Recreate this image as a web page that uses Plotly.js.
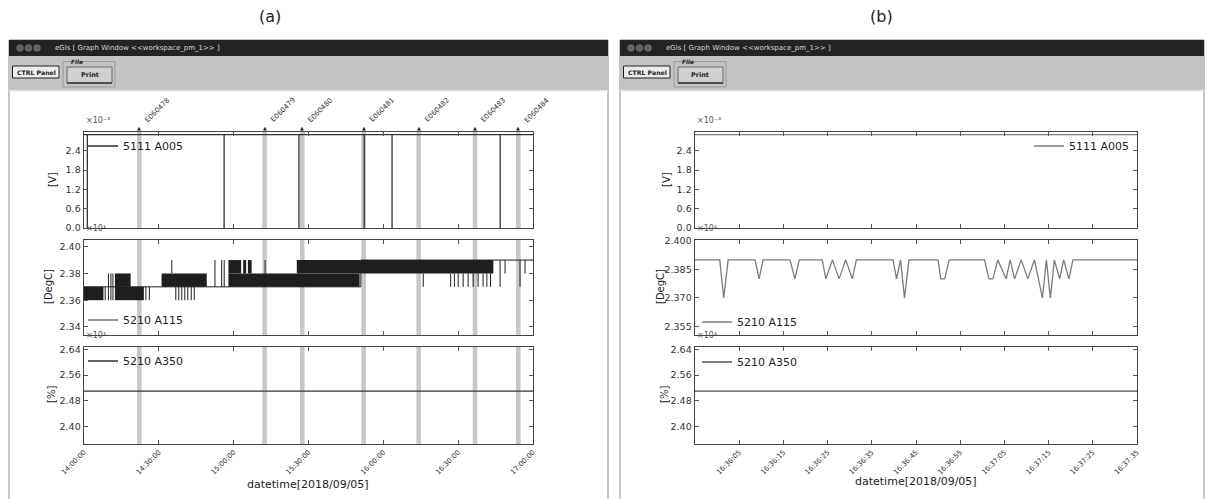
<!DOCTYPE html>
<html><head><meta charset="utf-8">
<script src="https://cdn.plot.ly/plotly-3.0.1.min.js"></script>
<style>html,body{margin:0;padding:0;background:#fff}#chart{width:1208px;height:499px}</style>
</head><body><div id="chart"></div>
<script>
// ---------------- DATA ----------------
const DAY = '2018-09-05';

// (a) 14:00 – 17:00 overview
const aRange = ['14:00:00', '17:00:00'];
const aTicks = ['14:00:00', '14:30:00', '15:00:00', '15:30:00', '16:00:00', '16:30:00', '17:00:00'];

const eventNames = ['E060478', 'E060479', 'E060480', 'E060481', 'E060482', 'E060483', 'E060484'];
const eventStart = ['14:21:15', '15:11:30', '15:26:35', '15:51:12', '16:13:15', '16:35:50', '16:53:12'];
const eventEnd   = ['14:23:05', '15:13:20', '15:28:25', '15:53:02', '16:15:05', '16:37:40', '16:55:02'];

// 5111 A005 [V] (x10^-3): steady level with short drops
const voltLevel = 2.9;
const voltDropLevel = 0.0;
const voltDropTimes = ['14:01:20', '14:56:10', '15:26:10', '15:52:20', '16:03:30', '16:46:50'];

// 5210 A115 [DegC] (x10^1): dense toggling shown as ranges
const tempBlockStart = ['14:00:00', '14:12:24', '14:12:24', '14:31:06', '14:57:54', '14:57:54', '15:03:48', '15:05:42', '15:25:18'];
const tempBlockEnd   = ['14:07:48', '14:24:00', '14:18:42', '14:49:12', '15:50:30', '15:03:00', '15:05:00', '15:07:12', '16:44:06'];
const tempBlockLow   = [2.36, 2.36, 2.37, 2.37, 2.37, 2.38, 2.38, 2.38, 2.38];
const tempBlockHigh  = [2.37, 2.37, 2.38, 2.38, 2.38, 2.39, 2.39, 2.39, 2.39];
const tempSpikeTimes = ['14:08:30', '14:09:48', '14:10:48', '14:11:36', '14:24:48', '14:26:12', '14:35:12',
  '14:36:48', '14:38:00', '14:39:12', '14:40:24', '14:41:36', '14:43:00', '14:44:12',
  '14:52:30', '14:55:12', '14:56:12', '15:12:36', '16:16:00',
  '16:27:00', '16:28:30', '16:30:00', '16:32:00', '16:34:00', '16:36:00', '16:38:00', '16:40:00', '16:41:30', '16:43:00',
  '16:46:48', '16:48:48', '16:54:48', '16:56:48'];
const tempSpikeLow  = [2.36, 2.36, 2.36, 2.36, 2.36, 2.36, 2.38,
  2.36, 2.36, 2.36, 2.36, 2.36, 2.36, 2.36,
  2.37, 2.37, 2.37, 2.37, 2.37,
  2.37, 2.37, 2.37, 2.37, 2.37, 2.37, 2.37, 2.37, 2.37, 2.37,
  2.37, 2.38, 2.37, 2.38];
const tempSpikeHigh = [2.37, 2.38, 2.38, 2.38, 2.37, 2.37, 2.39,
  2.37, 2.37, 2.37, 2.37, 2.37, 2.37, 2.37,
  2.39, 2.39, 2.39, 2.39, 2.38,
  2.38, 2.38, 2.38, 2.38, 2.38, 2.38, 2.38, 2.38, 2.38, 2.38,
  2.39, 2.39, 2.39, 2.39];
const tempBaseTimes  = ['14:00:00', '15:51:00', '15:51:00', '17:00:00'];
const tempBaseValues = [2.37, 2.37, 2.39, 2.39];

// 5210 A350 [%] (x10^1)
const humTimesA  = ['14:00:00', '17:00:00'];
const humValuesA = [2.51, 2.51];

// (b) zoom 16:35:55 – 16:37:35
const bRange = ['16:35:55', '16:37:35'];
const bTicks = ['16:36:05', '16:36:15', '16:36:25', '16:36:35', '16:36:45', '16:36:55', '16:37:05', '16:37:15', '16:37:25', '16:37:35'];
const voltTimesB  = ['16:35:55', '16:37:35'];
const voltValuesB = [2.9, 2.9];
const tempTimesB = ['16:35:55', '16:36:00.6', '16:36:01.5', '16:36:02.5', '16:36:08.6', '16:36:09.5', '16:36:10.4',
  '16:36:16.5', '16:36:17.6', '16:36:18.6', '16:36:23.8', '16:36:24.6', '16:36:26.1', '16:36:27.6', '16:36:29.1',
  '16:36:30.6', '16:36:31.5', '16:36:39.8', '16:36:40.6', '16:36:41.5', '16:36:42.4', '16:36:43.4',
  '16:36:50.0', '16:36:50.6', '16:36:51.5', '16:36:52.5', '16:37:00.5', '16:37:01.5', '16:37:02.4', '16:37:03.5',
  '16:37:05.4', '16:37:06.3', '16:37:07.3', '16:37:08.8', '16:37:10.3', '16:37:11.8', '16:37:13.6', '16:37:14.5',
  '16:37:15.4', '16:37:16.3', '16:37:17.5', '16:37:18.4', '16:37:19.6', '16:37:20.5', '16:37:35'];
const tempValuesB = [2.39, 2.39, 2.37, 2.39, 2.39, 2.38, 2.39,
  2.39, 2.38, 2.39, 2.39, 2.38, 2.39, 2.38, 2.39,
  2.38, 2.39, 2.39, 2.38, 2.39, 2.37, 2.39,
  2.39, 2.38, 2.38, 2.39, 2.39, 2.38, 2.38, 2.39,
  2.38, 2.39, 2.38, 2.39, 2.38, 2.39, 2.37, 2.39,
  2.37, 2.39, 2.38, 2.39, 2.38, 2.39, 2.39];
const humTimesB  = ['16:35:55', '16:37:35'];
const humValuesB = [2.51, 2.51];

// ---------------- HELPERS ----------------
const W = 1208, H = 499;
const px = x => x / W, py = y => 1 - y / H;
const T = s => DAY + ' ' + s;
const ms = s => Date.parse(DAY + 'T' + s + 'Z');
const msToStr = m => new Date(m).toISOString().replace('T', ' ').replace('Z', '');
const FONT = 'DejaVu Sans, Verdana, sans-serif';
const DARK = '#1e1e1e', GREY = '#7c7c7c';

// ---------------- TRACES ----------------
const traces = [];
// (a) panel 1
(function () {
  const x = [T(aRange[0])], y = [voltLevel];
  voltDropTimes.forEach(t => { x.push(T(t), T(t), T(t)); y.push(voltLevel, voltDropLevel, voltLevel); });
  x.push(T(aRange[1])); y.push(voltLevel);
  traces.push({type: 'scatter', mode: 'lines', x, y, name: '5111 A005', legend: 'legend',
    xaxis: 'x', yaxis: 'y', line: {color: '#333', width: 1.3}});
})();
// (a) panel 2
traces.push({type: 'bar', xaxis: 'x2', yaxis: 'y2', showlegend: false,
  x: tempBlockStart.map((s, i) => (ms(s) + ms(tempBlockEnd[i])) / 2).map(msToStr),
  width: tempBlockStart.map((s, i) => ms(tempBlockEnd[i]) - ms(s)),
  base: tempBlockLow, y: tempBlockHigh.map((h, i) => +(h - tempBlockLow[i]).toFixed(3)),
  marker: {color: DARK, line: {width: 0}}, hoverinfo: 'skip'});
(function () {
  const x = [], y = [];
  tempSpikeTimes.forEach((t, i) => { x.push(T(t), T(t), null); y.push(tempSpikeLow[i], tempSpikeHigh[i], null); });
  traces.push({type: 'scatter', mode: 'lines', x, y, showlegend: false, xaxis: 'x2', yaxis: 'y2',
    line: {color: DARK, width: 1}, connectgaps: false});
})();
traces.push({type: 'scatter', mode: 'lines', x: tempBaseTimes.map(T), y: tempBaseValues, name: '5210 A115',
  legend: 'legend2', xaxis: 'x2', yaxis: 'y2', line: {color: DARK, width: 1}});
// (a) panel 3
traces.push({type: 'scatter', mode: 'lines', x: humTimesA.map(T), y: humValuesA, name: '5210 A350',
  legend: 'legend3', xaxis: 'x3', yaxis: 'y3', line: {color: '#333', width: 1.3}});
// (b)
traces.push({type: 'scatter', mode: 'lines', x: voltTimesB.map(T), y: voltValuesB, name: '5111 A005',
  legend: 'legend4', xaxis: 'x4', yaxis: 'y4', line: {color: GREY, width: 1.3}});
traces.push({type: 'scatter', mode: 'lines', x: tempTimesB.map(T), y: tempValuesB, name: '5210 A115',
  legend: 'legend5', xaxis: 'x5', yaxis: 'y5', line: {color: GREY, width: 1.3}});
traces.push({type: 'scatter', mode: 'lines', x: humTimesB.map(T), y: humValuesB, name: '5210 A350',
  legend: 'legend6', xaxis: 'x6', yaxis: 'y6', line: {color: GREY, width: 1.8}});

// ---------------- AXES ----------------
const AX = [84, 533], BX = [695, 1137];
const P1 = [132, 228], P2 = [240, 335], P3 = [347, 444];
const tickfontY = {family: FONT, size: 9.5, color: '#333'};

function xax(dom, range, ticks, labels, anchor) {
  return {domain: [px(dom[0]), px(dom[1])], type: 'date', range: range.map(T),
    tickmode: 'array', tickvals: ticks.map(T), ticktext: ticks,
    tickangle: -45, showticklabels: labels, ticks: 'inside', ticklen: 4, tickcolor: '#555',
    mirror: 'ticks', showline: true, linecolor: '#444', linewidth: 1.4, showgrid: false, zeroline: false,
    anchor, tickfont: {family: FONT, size: 7, color: '#333'}, fixedrange: true};
}
function yax(dom, range, vals, fmt, anchor) {
  return {domain: [py(dom[1]), py(dom[0])], range, tickmode: 'array', tickvals: vals,
    ticktext: vals.map(v => v.toFixed(fmt)), ticks: 'inside', ticklen: 4, tickcolor: '#555',
    mirror: 'ticks', showline: true, linecolor: '#444', linewidth: 1.4, showgrid: false, zeroline: false,
    anchor, tickfont: tickfontY, fixedrange: true};
}

const layout = {
  width: W, height: H, margin: {l: 0, r: 0, t: 0, b: 0}, autosize: false,
  paper_bgcolor: '#fff', plot_bgcolor: 'rgba(0,0,0,0)', barmode: 'overlay', showlegend: true,
  font: {family: FONT, color: '#222'},
  xaxis:  xax(AX, aRange, aTicks, false, 'y'),
  xaxis2: xax(AX, aRange, aTicks, false, 'y2'),
  xaxis3: xax(AX, aRange, aTicks, true, 'y3'),
  xaxis4: xax(BX, bRange, bTicks, false, 'y4'),
  xaxis5: xax(BX, bRange, bTicks, false, 'y5'),
  xaxis6: xax(BX, bRange, bTicks, true, 'y6'),
  yaxis:  yax(P1, [0, 2.98], [0, 0.6, 1.2, 1.8, 2.4], 1, 'x'),
  yaxis2: yax(P2, [2.334, 2.405], [2.34, 2.36, 2.38, 2.40], 2, 'x2'),
  yaxis3: yax(P3, [2.346, 2.647], [2.40, 2.48, 2.56, 2.64], 2, 'x3'),
  yaxis4: yax(P1, [0, 2.98], [0, 0.6, 1.2, 1.8, 2.4], 1, 'x4'),
  yaxis5: yax(P2, [2.3504, 2.4005], [2.355, 2.370, 2.385, 2.400], 3, 'x5'),
  yaxis6: yax(P3, [2.346, 2.647], [2.40, 2.48, 2.56, 2.64], 2, 'x6'),
  shapes: [], annotations: []
};

function leg(x, y) {
  return {x: px(x), y: py(y), xanchor: 'left', yanchor: 'middle', bgcolor: 'rgba(0,0,0,0)', borderwidth: 0,
    font: {family: FONT, size: 11, color: '#222'}, itemwidth: 30, tracegroupgap: 0};
}
layout.legend = leg(83, 146);
layout.legend2 = leg(83, 320);
layout.legend3 = leg(83, 361);
layout.legend4 = leg(1029, 146);
layout.legend5 = leg(697, 322);
layout.legend6 = leg(697, 362);

// event bands across the three (a) panels
eventStart.forEach((s, i) => {
  [['x', 'y'], ['x2', 'y2'], ['x3', 'y3']].forEach(([xr, yr]) => {
    layout.shapes.push({type: 'rect', xref: xr, yref: yr + ' domain', x0: T(s), x1: T(eventEnd[i]), y0: 0, y1: 1,
      fillcolor: '#c8c8c8', line: {width: 0}, layer: 'below'});
  });
  const mid = msToStr((ms(s) + ms(eventEnd[i])) / 2);
  layout.annotations.push({xref: 'x', yref: 'paper', x: mid, y: py(133), text: '▲', showarrow: false,
    xanchor: 'center', yanchor: 'bottom', font: {size: 5, color: '#222'}});
  layout.annotations.push({xref: 'x', yref: 'paper', x: mid, y: py(127), text: eventNames[i], showarrow: false,
    textangle: -45, xanchor: 'left', yanchor: 'bottom', xshift: 2, font: {family: FONT, size: 7, color: '#333'}});
});

// ---------------- WINDOW CHROME ----------------
function rect(x0, y0, x1, y1, fill, line, lw) {
  layout.shapes.push({type: 'rect', xref: 'paper', yref: 'paper', x0: px(x0), x1: px(x1), y0: py(y1), y1: py(y0),
    fillcolor: fill, line: {color: line || 'rgba(0,0,0,0)', width: lw || 0}, layer: 'above'});
}
function circ(cx, cy, r, fill) {
  layout.shapes.push({type: 'circle', xref: 'paper', yref: 'paper', x0: px(cx - r), x1: px(cx + r), y0: py(cy + r), y1: py(cy - r),
    fillcolor: fill, line: {color: '#8a8a8a', width: 0.6}, layer: 'above'});
}
function txt(x, y, text, size, opts) {
  layout.annotations.push(Object.assign({xref: 'paper', yref: 'paper', x: px(x), y: py(y), text, showarrow: false,
    xanchor: 'left', yanchor: 'middle', font: {family: FONT, size, color: '#222'}}, opts || {}));
}
function windowChrome(ox, right) {
  rect(ox, 40, right, 520, 'rgba(0,0,0,0)', '#8c8c8c', 1);
  rect(ox, 40, right, 56, '#232323');
  rect(ox, 56, right, 90, '#c3c3c3');
  rect(ox, 90, right, 91.5, '#e4e4e4');
  circ(ox + 11, 48, 3.3, '#5e5e5e'); circ(ox + 19.5, 48, 3.3, '#5e5e5e'); circ(ox + 28, 48, 3.3, '#5e5e5e');
  txt(ox + 44, 48, 'eGls [ Graph Window &lt;&lt;workspace_pm_1&gt;&gt; ]', 7, {font: {family: FONT, size: 7, color: '#d6d6d6'}});
  rect(ox + 3.5, 66, ox + 50, 78, '#ececec', '#222', 1);
  txt(ox + 27, 72, '<b>CTRL Panel</b>', 6.2, {xanchor: 'center'});
  rect(ox + 54, 61.5, ox + 106, 87, 'rgba(0,0,0,0)', '#9a9a9a', 1);
  txt(ox + 60, 62, '<b><i>File</i></b>', 5.8, {});
  rect(ox + 58, 67, ox + 103, 83, '#d0d0d0', '#6a6a6a', 1);
  rect(ox + 58, 82, ox + 103, 84, '#505050');
  txt(ox + 80.5, 75, '<b>Print</b>', 6.5, {xanchor: 'center'});
}
windowChrome(9, 608);
windowChrome(620, 1204);

// panel captions
txt(270, 16, '(a)', 16, {xanchor: 'center'});
txt(881, 16, '(b)', 16, {xanchor: 'center'});

// offset texts and axis labels
[84, 695].forEach(x0 => {
  txt(x0, 127, '×10⁻³', 8, {yanchor: 'bottom', font: {family: FONT, size: 8, color: '#555'}});
  txt(x0, 235, '×10¹', 8, {yanchor: 'bottom', font: {family: FONT, size: 8, color: '#555'}});
  txt(x0, 342, '×10¹', 8, {yanchor: 'bottom', font: {family: FONT, size: 8, color: '#555'}});
});
txt(52, 180, '[V]', 10, {xanchor: 'center', textangle: -90});
txt(48, 287, '[DegC]', 10, {xanchor: 'center', textangle: -90});
txt(51, 395, '[%]', 10, {xanchor: 'center', textangle: -90});
txt(666, 180, '[V]', 10, {xanchor: 'center', textangle: -90});
txt(660, 287, '[DegC]', 10, {xanchor: 'center', textangle: -90});
txt(664, 395, '[%]', 10, {xanchor: 'center', textangle: -90});
txt(308, 484, 'datetime[2018/09/05]', 11, {xanchor: 'center'});
txt(916, 481, 'datetime[2018/09/05]', 11, {xanchor: 'center'});

Plotly.newPlot('chart', traces, layout, {staticPlot: true, displayModeBar: false});
</script>
</body></html>
